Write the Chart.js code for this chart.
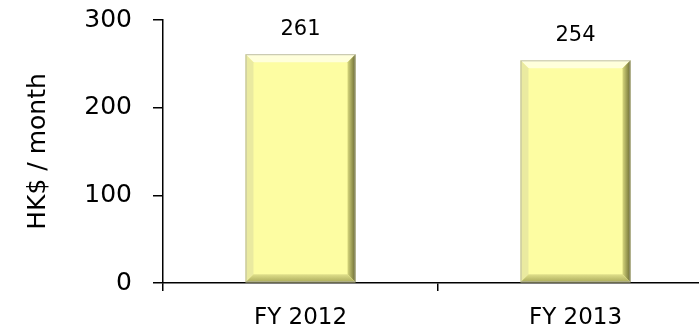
<!DOCTYPE html>
<html>
<head>
<meta charset="utf-8">
<script src="https://cdn.jsdelivr.net/npm/chart.js"></script>
<style>
  html, body { margin: 0; padding: 0; background: #fff; overflow: hidden; }
  #wrap { width: 713px; height: 330px; }
</style>
</head>
<body>
<div id="wrap"><canvas id="chart"></canvas></div>
<script>
(function() {
    'use strict';

    // ─── DATA ───────────────────────────────────────────────
    const categories = ['FY 2012', 'FY 2013'];
    const values = [261, 254];
    const yTicks = [0, 100, 200, 300];

    const FONT = '"DejaVu Sans", Arial, sans-serif';

    // ─── PLUGIN: value labels above the bars ────────────────
    const valueLabels = {
        id: 'valueLabels',
        afterDatasetsDraw(chart) {
            const ctx = chart.ctx;
            const meta = chart.getDatasetMeta(0);
            ctx.save();
            ctx.font = '21px ' + FONT;
            ctx.fillStyle = '#000';
            ctx.textAlign = 'center';
            ctx.textBaseline = 'alphabetic';
            meta.data.forEach((bar, i) => {
                ctx.fillText(String(values[i]), bar.x, bar.y - 19);
            });
            ctx.restore();
        }
    };

    // ─── PLUGIN: bevel look on the bars ─────────────────────
    const bevel = {
        id: 'bevel',
        afterDatasetDraw(chart) {
            const ctx = chart.ctx;
            const meta = chart.getDatasetMeta(0);
            const b = 8;
            ctx.save();
            meta.data.forEach((bar) => {
                const l = bar.x - bar.width / 2, r = bar.x + bar.width / 2;
                const t = bar.y, btm = bar.base;
                // top (light)
                ctx.fillStyle = 'rgba(255,255,225,0.9)';
                ctx.beginPath();
                ctx.moveTo(l, t); ctx.lineTo(r, t); ctx.lineTo(r - b, t + b); ctx.lineTo(l + b, t + b); ctx.closePath(); ctx.fill();
                // left
                ctx.fillStyle = 'rgba(232,232,160,0.9)';
                ctx.beginPath();
                ctx.moveTo(l, t); ctx.lineTo(l + b, t + b); ctx.lineTo(l + b, btm - b); ctx.lineTo(l, btm); ctx.closePath(); ctx.fill();
                // right (dark)
                const gr = ctx.createLinearGradient(r - b, 0, r, 0);
                gr.addColorStop(0, 'rgba(215,215,125,1)');
                gr.addColorStop(1, 'rgba(105,105,50,1)');
                ctx.fillStyle = gr;
                ctx.beginPath();
                ctx.moveTo(r, t); ctx.lineTo(r, btm); ctx.lineTo(r - b, btm - b); ctx.lineTo(r - b, t + b); ctx.closePath(); ctx.fill();
                // bottom
                const gb = ctx.createLinearGradient(0, btm - b, 0, btm);
                gb.addColorStop(0, 'rgba(225,225,140,1)');
                gb.addColorStop(1, 'rgba(170,170,90,1)');
                ctx.fillStyle = gb;
                ctx.beginPath();
                ctx.moveTo(l, btm); ctx.lineTo(r, btm); ctx.lineTo(r - b, btm - b); ctx.lineTo(l + b, btm - b); ctx.closePath(); ctx.fill();
                // outline
                ctx.strokeStyle = 'rgba(175,175,160,0.8)';
                ctx.lineWidth = 1;
                ctx.strokeRect(l + 0.5, t + 0.5, bar.width - 1, btm - t - 1);
            });
            ctx.restore();
        }
    };

    const ctx = document.getElementById('chart').getContext('2d');
    new Chart(ctx, {
        type: 'bar',
        data: {
            labels: categories,
            datasets: [{
                data: values,
                backgroundColor: '#FDFDA2',
                borderWidth: 0,
                categoryPercentage: 0.8,
                barPercentage: 0.5
            }]
        },
        options: {
            responsive: true,
            maintainAspectRatio: false,
            animation: false,
            layout: { padding: { top: 20, right: 0, left: 0, bottom: 0 } },
            plugins: { legend: { display: false }, tooltip: { enabled: false } },
            scales: {
                x: {
                    grid: { drawOnChartArea: false, drawTicks: true, tickLength: 8, color: '#000', lineWidth: 1.5 },
                    border: { color: '#000', width: 1.5 },
                    ticks: { color: '#000', font: { family: FONT, size: 23 }, padding: 13 },
                    afterFit: (scale) => {
                        scale.height = 47;
                        scale.paddingLeft = 0;
                        scale.paddingRight = 0;
                    }
                },
                y: {
                    min: 0,
                    max: 300,
                    afterBuildTicks: (scale) => { scale.ticks = yTicks.map(v => ({ value: v })); },
                    grid: { drawOnChartArea: false, drawTicks: true, tickLength: 10, color: '#000', lineWidth: 1.5 },
                    border: { color: '#000', width: 1.5 },
                    ticks: { color: '#000', font: { family: FONT, size: 25 }, padding: 21 },
                    title: {
                        display: true,
                        text: 'HK$ / month',
                        color: '#000',
                        font: { family: FONT, size: 25 },
                        padding: { top: 23, bottom: 0 }
                    },
                    afterFit: (scale) => {
                        scale.width = 163;
                        scale.paddingTop = 0;
                        scale.paddingBottom = 0;
                    }
                }
            }
        },
        plugins: [bevel, valueLabels]
    });
})();
</script>
</body>
</html>
